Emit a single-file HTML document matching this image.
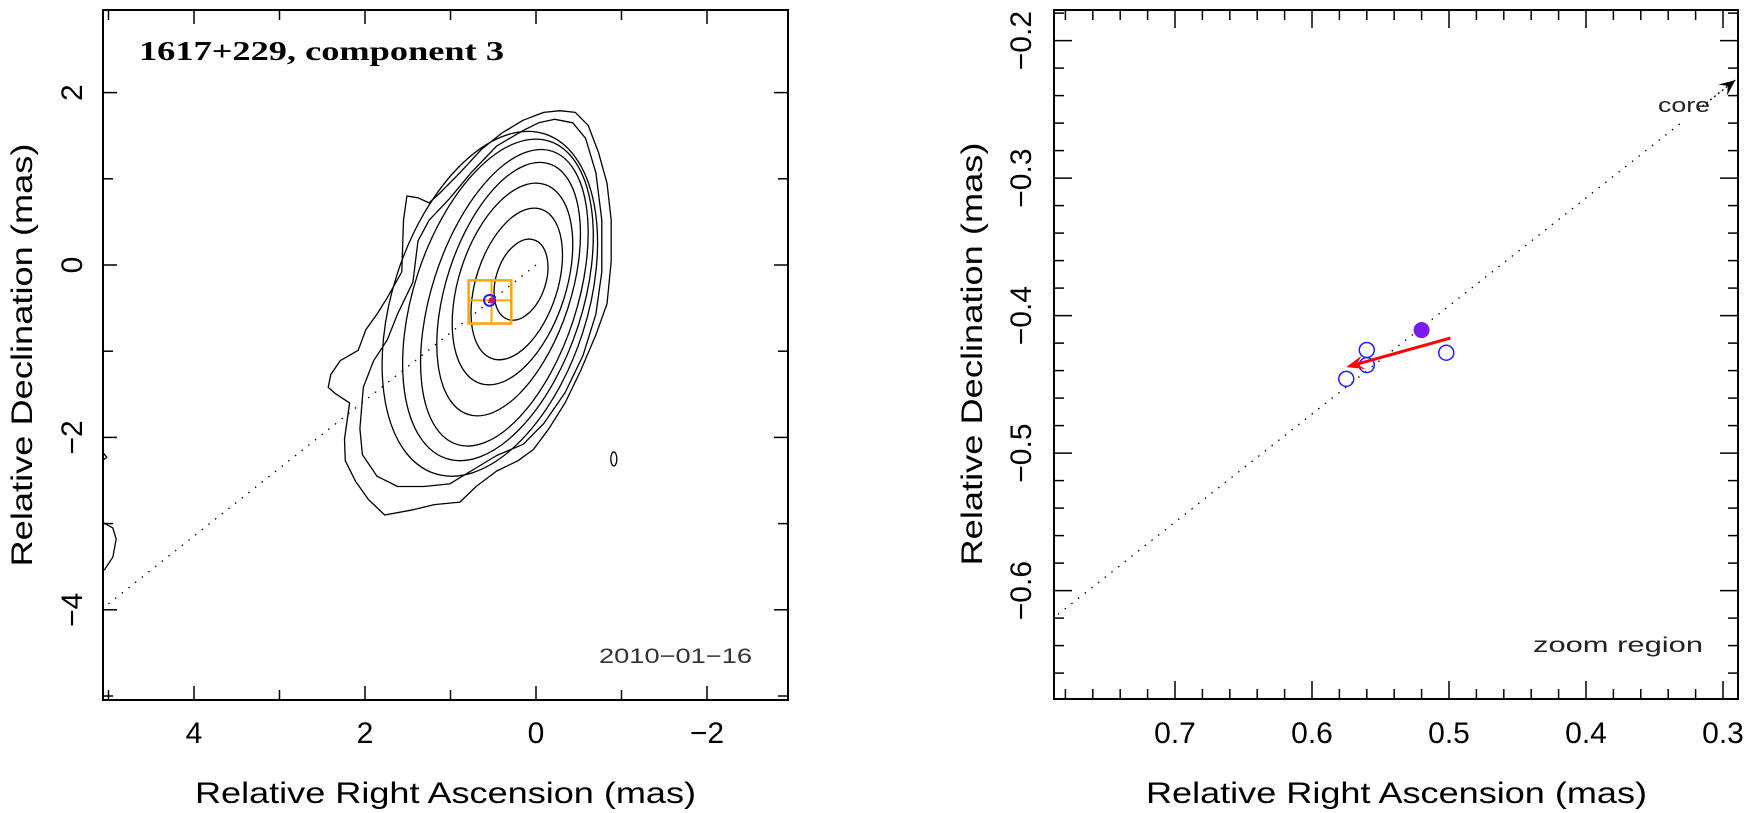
<!DOCTYPE html>
<html>
<head>
<meta charset="utf-8">
<style>
html,body{margin:0;padding:0;background:#fff;}
svg{display:block;}
text{font-family:"Liberation Sans",sans-serif;fill:#000;}
</style>
</head>
<body>
<svg id="chart" width="1750" height="813" viewBox="0 0 1750 813" xmlns="http://www.w3.org/2000/svg">
<defs>
<clipPath id="clipL"><rect x="103" y="10" width="685" height="690"/></clipPath>
<clipPath id="clipR"><rect x="1054" y="10" width="684" height="689"/></clipPath>
</defs>
<g id="left"></g>
<g id="right"></g>
</svg>
<script>
// ---------- data ----------
const contourLeft   = [0.49, 0.76, 0.98, 1.16, 1.35, 1.56, 1.80];
const contourRight  = [-0.14, -0.31, -0.43, -0.52, -0.61, -0.67, -0.72];
const contourTop    = [0.30, 0.66, 0.95, 1.19, 1.34, 1.46, 1.55];
const contourBottom = [-0.64, -1.10, -1.39, -1.75, -2.10, -2.27, -2.45];
const outer1RA  = [-0.22,-0.43,-0.58,-0.70,-0.77,-0.77,-0.70,-0.55,-0.34,-0.09,0.15,0.46,0.76,1.01,1.31,1.62,1.86,2.03,2.06,2.02,1.90,1.74,1.62,1.44,1.38,1.25,1.01,0.76,0.46,0.15,-0.03];
const outer1Dec = [1.69,1.65,1.47,1.07,0.52,-0.08,-0.57,-1.05,-1.48,-1.84,-2.08,-2.21,-2.39,-2.54,-2.57,-2.57,-2.45,-2.20,-1.90,-1.42,-1.11,-0.87,-0.57,-0.20,0.28,0.52,0.77,1.07,1.38,1.56,1.65];
const outer2RA  = [-0.28,-0.46,-0.61,-0.73,-0.83,-0.88,-0.88,-0.83,-0.70,-0.52,-0.34,-0.15,0.03,0.21,0.46,0.70,0.89,1.19,1.44,1.77,1.96,2.11,2.23,2.24,2.18,2.35,2.43,2.40,2.29,2.08,1.99,1.86,1.74,1.57,1.55,1.51,1.38,1.25,1.13,0.89,0.64,0.40,0.15,-0.09];
const outer2Dec = [1.79,1.77,1.62,1.31,0.95,0.52,0.04,-0.45,-0.81,-1.23,-1.60,-1.90,-2.14,-2.27,-2.39,-2.57,-2.75,-2.78,-2.84,-2.90,-2.72,-2.51,-2.27,-2.02,-1.60,-1.49,-1.42,-1.27,-1.11,-0.99,-0.75,-0.57,-0.38,-0.08,0.52,0.80,0.78,0.72,0.83,1.07,1.34,1.53,1.68,1.77];
const edgeRA  = [5.06,4.95,4.91,4.95,5.05];
const edgeDec = [-2.99,-3.05,-3.18,-3.39,-3.54];
const edge2RA  = [5.07,5.02,5.07];
const edge2Dec = [-2.17,-2.23,-2.27];
const blobRA = [-0.91], blobDec = [-2.25];
const compRA = 0.52, compDec = -0.41;
const zoomBox = [0.788, 0.289, -0.178, -0.679];
const leftXTicks = [4, 2, 0, -2];
const leftXLabels = ["4", "2", "0", "\u22122"];
const leftYTicks = [2, 0, -2, -4];
const leftYLabels = ["2", "0", "\u22122", "\u22124"];
const openRA  = [0.560, 0.560, 0.575, 0.502];
const openDec = [-0.425, -0.436, -0.446, -0.427];
const filledRA = [0.520], filledDec = [-0.4105];
const arrowRA = [0.499, 0.575], arrowDec = [-0.4163, -0.4375];
const slope = -0.786;
const rightXTicks = [0.7, 0.6, 0.5, 0.4, 0.3];
const rightXLabels = ["0.7", "0.6", "0.5", "0.4", "0.3"];
const rightYTicks = [-0.2, -0.3, -0.4, -0.5, -0.6];
const rightYLabels = ["\u22120.2", "\u22120.3", "\u22120.4", "\u22120.5", "\u22120.6"];

const NS = "http://www.w3.org/2000/svg";
function mk(tag, attrs, parent) {
  const e = document.createElementNS(NS, tag);
  for (const k in attrs) e.setAttribute(k, attrs[k]);
  parent.appendChild(e);
  return e;
}
const lx = v => 536 - 85.5 * v;
const ly = v => 265 - 86.2 * v;
const rx = v => 1449 - 1370 * (v - 0.5);
const ry = v => 315.6 - 1375 * (v + 0.4);

const L = document.getElementById('left');
const R = document.getElementById('right');

const gc = mk('g', {'clip-path': 'url(#clipL)'}, L);


const th = 72 * Math.PI / 180, c2 = Math.cos(th) ** 2, s2 = Math.sin(th) ** 2;
for (let i = 0; i < contourLeft.length; i++) {
  const x1 = lx(contourLeft[i]), x2 = lx(contourRight[i]);
  const y1 = ly(contourTop[i]), y2 = ly(contourBottom[i]);
  const W = (x2 - x1) / 2, H = (y2 - y1) / 2;
  const den = s2 * s2 - c2 * c2;
  let a2 = (s2 * H * H - c2 * W * W) / den;
  let b2 = (s2 * W * W - c2 * H * H) / den;
  const a = Math.sqrt(Math.max(a2, 10)), b = Math.sqrt(Math.max(b2, 10));
  const cx = (x1 + x2) / 2, cy = (y1 + y2) / 2;
  const e = mk('ellipse', {cx: cx, cy: cy, rx: a, ry: b, transform: `rotate(-72 ${cx} ${cy})`, fill: 'none', stroke: '#000', 'stroke-width': 1.3}, gc);
  
  
}
function poly(ra, dec, closed, name) {
  let d = '';
  for (let i = 0; i < ra.length; i++) d += (i ? 'L' : 'M') + lx(ra[i]).toFixed(1) + ' ' + ly(dec[i]).toFixed(1);
  if (closed) d += 'Z';
  const p = mk('path', {d: d, fill: 'none', stroke: '#000', 'stroke-width': 1.3, 'stroke-linejoin': 'round'}, gc);
  
  
}
poly(outer1RA, outer1Dec, true, 'contour-level-7');
poly(outer2RA, outer2Dec, true, 'contour-level-8');
poly(edgeRA, edgeDec, false, 'edge-contour');
poly(edge2RA, edge2Dec, false, 'edge-contour-small');
const blob = mk('ellipse', {cx: lx(blobRA[0]), cy: ly(blobDec[0]), rx: 3, ry: 7, fill: 'none', stroke: '#000', 'stroke-width': 1.3}, gc);


const dl = mk('line', {x1: lx(0), y1: ly(0), x2: lx(5.1), y2: ly(slope * 5.1), stroke: '#000', 'stroke-width': 1.3, 'stroke-dasharray': '1.5 7'}, gc);


const bx1 = lx(zoomBox[0]), bx2 = lx(zoomBox[1]), by1 = ly(zoomBox[2]), by2 = ly(zoomBox[3]);
const zb = mk('rect', {x: bx1, y: by1, width: bx2 - bx1, height: by2 - by1, fill: 'none', stroke: '#ffa500', 'stroke-width': 2.5}, gc);


const zv = mk('line', {x1: lx(compRA), y1: by1, x2: lx(compRA), y2: by2, stroke: '#ffa500', 'stroke-width': 2}, gc);


const zh = mk('line', {x1: bx1, y1: ly(compDec), x2: bx2, y2: ly(compDec), stroke: '#ffa500', 'stroke-width': 2}, gc);


const cm = mk('circle', {cx: lx(compRA) - 2, cy: ly(compDec), r: 5.5, fill: 'none', stroke: '#2222ff', 'stroke-width': 2}, gc);


const cd = mk('circle', {cx: lx(compRA), cy: ly(compDec), r: 3, fill: '#e0106a'}, gc);



const lf = mk('rect', {x: 103, y: 10, width: 685, height: 690, fill: 'none', stroke: '#000', 'stroke-width': 2}, L);


for (let v = -2; v <= 5; v++) {
  const x = lx(v);
  const len = (v % 2 === 0) ? 14 : 10;
  mk('line', {x1: x, y1: 700, x2: x, y2: 700 - len, stroke: '#000', 'stroke-width': 1.5}, L);
  mk('line', {x1: x, y1: 10, x2: x, y2: 10 + len, stroke: '#000', 'stroke-width': 1.5}, L);
}
for (let v = -5; v <= 2; v++) {
  const y = ly(v);
  const len = (v % 2 === 0) ? 14 : 10;
  mk('line', {x1: 103, y1: y, x2: 103 + len, y2: y, stroke: '#000', 'stroke-width': 1.5}, L);
  mk('line', {x1: 788, y1: y, x2: 788 - len, y2: y, stroke: '#000', 'stroke-width': 1.5}, L);
}
leftXTicks.forEach((v, i) => {
  const t = mk('text', {x: lx(v), y: 743, 'font-size': 30, 'text-anchor': 'middle'}, L);
  t.textContent = leftXLabels[i];
  
  
});
leftYTicks.forEach((v, i) => {
  const t = mk('text', {x: 0, y: 0, 'font-size': 30, 'text-anchor': 'middle', transform: `translate(82 ${ly(v)}) rotate(-90)`}, L);
  t.textContent = leftYLabels[i];
  
  
});
</script>
<script>
(function(){
const NS = "http://www.w3.org/2000/svg";
function mk(tag, attrs, parent) {
  const e = document.createElementNS(NS, tag);
  for (const k in attrs) e.setAttribute(k, attrs[k]);
  parent.appendChild(e);
  return e;
}
const L = document.getElementById('left');
const R = document.getElementById('right');
function txt(parent, s, attrs, name) {
  const t = mk('text', attrs, parent);
  t.textContent = s;
  
  
  return t;
}
txt(L, '1617+229, component 3', {x: 139, y: 60, 'font-size': 27, 'font-weight': 'bold', textLength: 365, lengthAdjust: 'spacingAndGlyphs', style: 'font-family:"Liberation Serif",serif'}, 'plot-title');
txt(L, '2010\u221201\u221216', {x: 599, y: 663, 'font-size': 21, textLength: 153, lengthAdjust: 'spacingAndGlyphs', style: 'fill:#333'}, 'epoch-date');
txt(L, 'Relative Right Ascension (mas)', {x: 195, y: 803, 'font-size': 30, textLength: 501, lengthAdjust: 'spacingAndGlyphs'}, 'x-axis-title');
txt(L, 'Relative Declination (mas)', {x: 0, y: 0, 'font-size': 30, textLength: 423, lengthAdjust: 'spacingAndGlyphs', 'text-anchor': 'middle', transform: 'translate(32 355) rotate(-90)'}, 'y-axis-title');

const gp = mk('g', {'clip-path': 'url(#clipR)'}, R);


const dl = mk('line', {x1: rx(0.8), y1: ry(slope * 0.8), x2: rx(0.33), y2: ry(slope * 0.33), stroke: '#000', 'stroke-width': 1.3, 'stroke-dasharray': '1.5 7'}, gp);


const ax1 = rx(0.318), ay1 = ry(slope * 0.318), ax2 = rx(0.291), ay2 = ry(slope * 0.291);
const ca = mk('line', {x1: ax1, y1: ay1, x2: ax2, y2: ay2, stroke: '#000', 'stroke-width': 1.3, 'stroke-dasharray': '2 3'}, gp);


const ang = Math.atan2(ay2 - ay1, ax2 - ax1);
function head(x, y, a, len, w, fill, name) {
  const p1 = [x - len * Math.cos(a) + w * Math.sin(a), y - len * Math.sin(a) - w * Math.cos(a)];
  const p2 = [x - len * Math.cos(a) - w * Math.sin(a), y - len * Math.sin(a) + w * Math.cos(a)];
  const pm = [x - 0.6 * len * Math.cos(a), y - 0.6 * len * Math.sin(a)];
  const h = mk('path', {d: `M${x} ${y}L${p1[0]} ${p1[1]}L${pm[0]} ${pm[1]}L${p2[0]} ${p2[1]}Z`, fill: fill}, gp);
  
  
}
head(ax2, ay2, ang, 16, 7, '#000', 'core-arrow-head');
txt(R, 'core', {x: 1658, y: 112, 'font-size': 20, textLength: 52, lengthAdjust: 'spacingAndGlyphs', style: 'fill:#222'}, 'core-label');
txt(R, 'zoom region', {x: 1533, y: 652, 'font-size': 21, textLength: 170, lengthAdjust: 'spacingAndGlyphs', style: 'fill:#222'}, 'zoom-region-label');
for (let i = 0; i < openRA.length; i++) {
  const c = mk('circle', {cx: rx(openRA[i]), cy: ry(openDec[i]), r: 7.5, fill: 'none', stroke: '#2020ff', 'stroke-width': 1.5}, gp);
  
  
}
for (let i = 0; i < filledRA.length; i++) {
  const c = mk('circle', {cx: rx(filledRA[i]), cy: ry(filledDec[i]), r: 8, fill: '#7a1cf0'}, gp);
  
  
}
const vx1 = rx(arrowRA[0]), vy1 = ry(arrowDec[0]), vx2 = rx(arrowRA[1]), vy2 = ry(arrowDec[1]);
const va = Math.atan2(vy2 - vy1, vx2 - vx1);
const vl = mk('line', {x1: vx1, y1: vy1, x2: vx2 - 10 * Math.cos(va), y2: vy2 - 10 * Math.sin(va), stroke: '#ff0000', 'stroke-width': 3}, gp);


head(vx2, vy2, va, 18, 7, '#ff0000', 'velocity-arrow-head');

const rf = mk('rect', {x: 1054, y: 10, width: 684, height: 689, fill: 'none', stroke: '#000', 'stroke-width': 2}, R);


for (let k = 29; k <= 78; k++) {
  if (k % 2 !== 0) continue;
  const x = rx(k / 100);
  if (x < 1054 || x > 1738) continue;
  const len = (k % 10 === 0) ? 18 : 10;
  mk('line', {x1: x, y1: 699, x2: x, y2: 699 - len, stroke: '#000', 'stroke-width': 1.5}, R);
  mk('line', {x1: x, y1: 10, x2: x, y2: 10 + len, stroke: '#000', 'stroke-width': 1.5}, R);
}
for (let k = -68; k <= -18; k++) {
  if (k % 2 !== 0) continue;
  const y = ry(k / 100);
  if (y < 10 || y > 699) continue;
  const len = (k % 10 === 0) ? 18 : 10;
  mk('line', {x1: 1054, y1: y, x2: 1054 + len, y2: y, stroke: '#000', 'stroke-width': 1.5}, R);
  mk('line', {x1: 1738, y1: y, x2: 1738 - len, y2: y, stroke: '#000', 'stroke-width': 1.5}, R);
}
rightXTicks.forEach((v, i) => {
  txt(R, rightXLabels[i], {x: rx(v), y: 743, 'font-size': 30, 'text-anchor': 'middle'}, 'x-tick-label');
});
rightYTicks.forEach((v, i) => {
  txt(R, rightYLabels[i], {x: 0, y: 0, 'font-size': 30, 'text-anchor': 'middle', transform: `translate(1031 ${ry(v)}) rotate(-90)`}, 'y-tick-label');
});
txt(R, 'Relative Right Ascension (mas)', {x: 1146, y: 803, 'font-size': 30, textLength: 501, lengthAdjust: 'spacingAndGlyphs'}, 'x-axis-title');
txt(R, 'Relative Declination (mas)', {x: 0, y: 0, 'font-size': 30, textLength: 423, lengthAdjust: 'spacingAndGlyphs', 'text-anchor': 'middle', transform: 'translate(982 354) rotate(-90)'}, 'y-axis-title');
})();
</script>
</body>
</html>
